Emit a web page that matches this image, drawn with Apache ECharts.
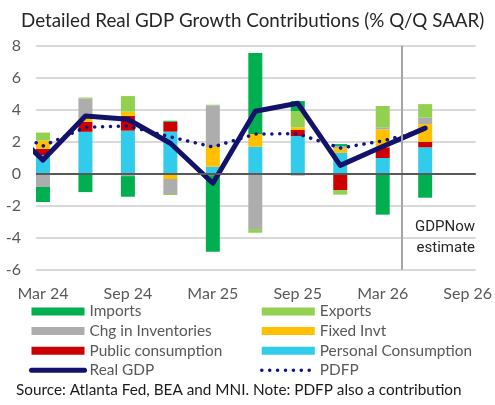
<!DOCTYPE html>
<html>
<head>
<meta charset="utf-8">
<script src="https://cdn.jsdelivr.net/npm/echarts@6/dist/echarts.min.js"></script>
<style>
  html, body { margin: 0; padding: 0; background: #fff; }
  #chart { width: 495px; height: 405px; }
</style>
</head>
<body>
<div id="chart"></div>
<script>
// quarters shown as bars (index 0 = Mar 24)
const quarters = ["Mar 24", "Jun 24", "Sep 24", "Dec 24", "Mar 25", "Jun 25", "Sep 25", "Dec 25", "Mar 26", "Jun 26"];
const tickLabels = ["Mar 24", "Sep 24", "Mar 25", "Sep 25", "Mar 26", "Sep 26"];

// contributions, pp
const personal = [1.17, 2.62, 2.69, 2.63, 0.44, 1.68, 2.35, 1.3, 0.98, 1.65];
const publicCons = [0.38, 0.62, 0.92, 0.62, -0.1, 0, 0.38, -1.02, 0.67, 0.33];
const fixedInvt = [0.52, 0.23, 0.27, -0.33, 1.23, 0.8, 0.17, 0.28, 1.12, 1.12];
const inventories = [-0.83, 1.23, -0.15, -0.94, 2.6, -3.46, -0.12, 0.15, 0.13, 0.4];
const exportsC = [0.5, 0.06, 0.97, -0.06, 0.04, -0.23, 1.02, -0.29, 1.33, 0.85];
const importsC = [-0.94, -1.15, -1.29, 0.06, -4.78, 5.06, 0.62, 0.12, -2.56, -1.5];

// lines (Dec 23 value only shows as the clipped start of the line)
const realGdpPrev = 3.4;
const realGdp = [0.85, 3.6, 3.4, 1.9, -0.6, 3.9, 4.4, 0.52, 1.7, 2.85];
const pdfpPrev = 3.0;
const pdfp = [1.73, 2.9, 2.98, 2.3, 1.67, 2.48, 2.5, 1.6, 2.05, 2.75];

const gdpNowAt = 8.44; // split between history and GDPNow estimate

const FONT = "Lato";
const chart = echarts.init(document.getElementById("chart"));

const pts = (arr) => arr.map((v, i) => [i, v]);
// value first so the stack runs on y (x is a value axis here)
const stackPts = (arr) => arr.map((v, i) => [v, i]);

const barSeries = (name, data, color, extra) =>
  Object.assign({
    name: name,
    type: "bar",
    stack: "gdp",
    barWidth: 14,
    encode: { x: 1, y: 0 },
    data: stackPts(data),
    itemStyle: { color: color },
  }, extra || {});

const legendText = { fontFamily: FONT, fontSize: 15.4, color: "#595959", lineHeight: 17 };

const option = {
  animation: false,
  title: {
    text: "Detailed Real GDP Growth Contributions (% Q/Q SAAR)",
    left: 21,
    top: 11,
    padding: 0,
    textStyle: { fontFamily: FONT, fontSize: 18.8, fontWeight: "normal", color: "#262626" },
  },
  grid: { left: 36, right: 18, top: 45.7, bottom: 135.3 },
  xAxis: {
    type: "value",
    min: -0.164,
    max: 10.19,
    axisLine: { show: false },
    axisTick: { show: false },
    splitLine: { show: false },
    axisLabel: {
      customValues: tickLabels.map((_, i) => i * 2),
      formatter: (v) => tickLabels[Math.round(v / 2)],
      fontFamily: FONT,
      fontSize: 16,
      color: "#595959",
      margin: 16,
    },
  },
  yAxis: {
    type: "value",
    min: -6,
    max: 8,
    interval: 2,
    axisLine: { show: false },
    axisTick: { show: false },
    splitLine: { lineStyle: { color: "#D9D9D9", width: 2 } },
    axisLabel: { fontFamily: FONT, fontSize: 16, color: "#595959", margin: 15 },
  },
  legend: [
    {
      data: [
        { name: "Imports", icon: "rect" },
        { name: "Chg in Inventories", icon: "rect" },
        { name: "Public consumption", icon: "rect" },
        { name: "Real GDP", itemStyle: { opacity: 0 }, lineStyle: { width: 5, cap: "round" } },
      ],
      orient: "vertical",
      left: 24,
      top: 298,
      itemWidth: 53,
      itemHeight: 8,
      itemGap: 2.6,
      textStyle: legendText,
    },
    {
      data: [
        { name: "Exports", icon: "rect" },
        { name: "Fixed Invt", icon: "rect" },
        { name: "Personal Consumption", icon: "rect" },
        { name: "PDFP", itemStyle: { opacity: 0 }, lineStyle: { width: 3.5, cap: "round" } },
      ],
      orient: "vertical",
      left: 255,
      top: 298,
      itemWidth: 53,
      itemHeight: 8,
      itemGap: 2.6,
      textStyle: legendText,
    },
  ],
  graphic: [
    {
      type: "text",
      right: 20,
      top: 217,
      style: {
        text: "GDPNow\nestimate",
        font: "15px Roboto",
        fill: "#262626",
        textAlign: "right",
        lineHeight: 21,
      },
    },
    {
      type: "text",
      left: 16,
      top: 383,
      style: {
        text: "Source: Atlanta Fed, BEA and MNI. Note: PDFP also a contribution",
        font: "15.3px " + FONT,
        fill: "#1a1a1a",
      },
    },
  ],
  series: [
    barSeries("Personal Consumption", personal, "#31CBEC", {
      markLine: {
        silent: true,
        symbol: ["none", "none"],
        label: { show: false },
        lineStyle: { color: "#A6A6A6", width: 2, type: "solid" },
        data: [{ xAxis: gdpNowAt }],
      },
    }),
    barSeries("Public consumption", publicCons, "#CC0000"),
    barSeries("Fixed Invt", fixedInvt, "#FFC000"),
    barSeries("Chg in Inventories", inventories, "#ADADAD"),
    barSeries("Exports", exportsC, "#92D050"),
    barSeries("Imports", importsC, "#00B050", {
      markLine: {
        silent: true,
        symbol: ["none", "none"],
        label: { show: false },
        lineStyle: { color: "#595959", width: 2, type: "solid" },
        data: [{ yAxis: 0 }],
      },
    }),
    {
      name: "PDFP",
      type: "line",
      symbol: "none",
      data: [[-1, pdfpPrev]].concat(pts(pdfp)),
      itemStyle: { color: "#141480" },
      lineStyle: { color: "#141480", width: 3.5, type: [0.1, 7.8], cap: "round" },
      z: 3,
    },
    {
      name: "Real GDP",
      type: "line",
      symbol: "none",
      data: [[-1, realGdpPrev]].concat(pts(realGdp)),
      itemStyle: { color: "#12126B" },
      lineStyle: { color: "#12126B", width: 5, cap: "round", join: "round" },
      z: 4,
    },
  ],
};

chart.setOption(option);
</script>
</body>
</html>
